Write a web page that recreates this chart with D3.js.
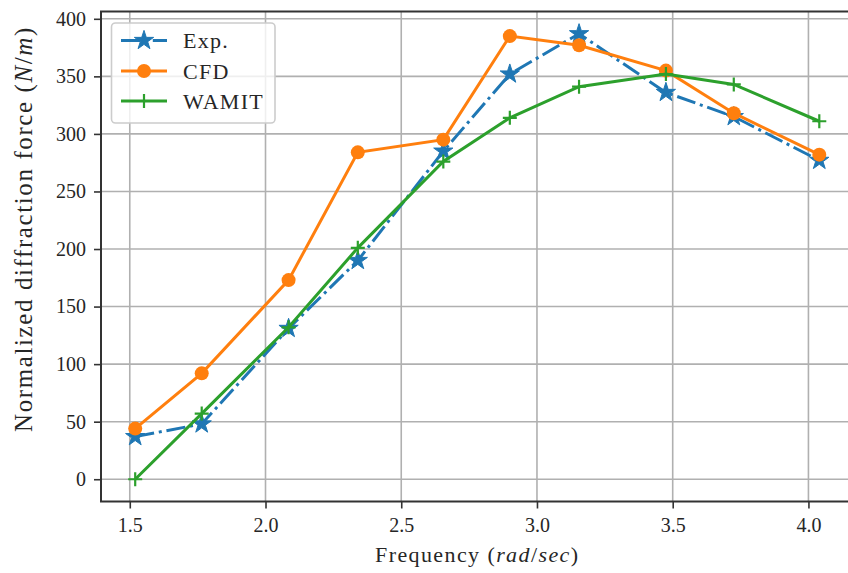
<!DOCTYPE html>
<html>
<head>
<meta charset="utf-8">
<script src="https://cdn.jsdelivr.net/npm/d3@7"></script>
<style>
  body { margin: 0; background: #fff; }
  svg text { font-family: "Liberation Serif", "DejaVu Serif", serif; fill: #262626; }
</style>
</head>
<body>
<svg id="chart" width="848" height="573"></svg>
<script>
// frequencies (rad/sec)
const freq = [1.52, 1.765, 2.085, 2.34, 2.655, 2.9, 3.155, 3.475, 3.725, 4.04];
// normalized diffraction force (N/m)
const expVals   = [37, 48, 131, 190, 285, 352, 387, 336, 315, 277];
const cfdVals   = [44, 92, 173, 284, 295, 385, 377, 355, 318, 282];
const wamitVals = [0, 57, 132, 201, 276, 314, 341, 352, 343, 311];

const xTicks = [1.5, 2.0, 2.5, 3.0, 3.5, 4.0];
const yTicks = [0, 50, 100, 150, 200, 250, 300, 350, 400];

const seriesNames = ['Exp.', 'CFD', 'WAMIT'];
const seriesColors = ['#1f77b4', '#ff7f0e', '#2ca02c'];

const svg = d3.select('#chart');
const plot = {left: 101, right: 853.5, top: 11.5, bottom: 501.5};

// matplotlib style 5% margins
const allY = expVals.concat(cfdVals, wamitVals);
const xMin = d3.min(freq), xMax = d3.max(freq);
const yMin = d3.min(allY), yMax = d3.max(allY);
const xPad = (xMax - xMin) * 0.05, yPad = (yMax - yMin) * 0.05;

const x = d3.scaleLinear().domain([xMin - xPad, xMax + xPad]).range([plot.left, plot.right]);
const y = d3.scaleLinear().domain([yMin - yPad, yMax + yPad]).range([plot.bottom, plot.top]);

// grid
const grid = svg.append('g');
grid.selectAll('.vg').data(xTicks).enter().append('line')
    .attr('x1', d => x(d)).attr('x2', d => x(d))
    .attr('y1', plot.top).attr('y2', plot.bottom)
    .attr('stroke', '#b0b0b0').attr('stroke-width', 1.6);
grid.selectAll('.hg').data(yTicks).enter().append('line')
    .attr('y1', d => y(d)).attr('y2', d => y(d))
    .attr('x1', plot.left).attr('x2', plot.right)
    .attr('stroke', '#b0b0b0').attr('stroke-width', 1.6);

// axes
const xAxis = d3.axisBottom(x).tickValues(xTicks).tickFormat(d3.format('.1f')).tickSize(7).tickPadding(9).tickSizeOuter(0);
const yAxis = d3.axisLeft(y).tickValues(yTicks).tickFormat(d3.format('d')).tickSize(7).tickPadding(8).tickSizeOuter(0);

const xAxisG = svg.append('g').attr('transform', `translate(0,${plot.bottom})`).call(xAxis);
const yAxisG = svg.append('g').attr('transform', `translate(${plot.left},0)`).call(yAxis);
[xAxisG, yAxisG].forEach(g => {
  g.select('.domain').remove();
  g.selectAll('.tick line').attr('stroke', '#333').attr('stroke-width', 1.6);
  g.selectAll('.tick text').attr('font-size', 20).attr('fill', '#262626')
    .style('font-family', '"Liberation Serif", serif');
});

// spines
svg.append('rect')
    .attr('x', plot.left).attr('y', plot.top)
    .attr('width', plot.right - plot.left).attr('height', plot.bottom - plot.top)
    .attr('fill', 'none').attr('stroke', '#333').attr('stroke-width', 2);

// series
const allSeries = [expVals, cfdVals, wamitVals];
const line = d3.line().x(d => x(d[0])).y(d => y(d[1]));
const starPath = d3.symbol().type(d3.symbolStar).size(115)();
const plusPath = 'M-7,0H7M0,-7V7';

function drawMarker(g, kind, color) {
  if (kind === 0) {
    g.append('path').attr('d', starPath).attr('fill', color).attr('stroke', color).attr('stroke-width', 1);
  } else if (kind === 1) {
    g.append('circle').attr('r', 7).attr('fill', color);
  } else {
    g.append('path').attr('d', plusPath).attr('stroke', color).attr('stroke-width', 2.2).attr('fill', 'none');
  }
}

allSeries.forEach((vals, i) => {
  const pts = freq.map((f, j) => [f, vals[j]]);
  const g = svg.append('g');
  g.append('path')
      .datum(pts)
      .attr('d', line)
      .attr('fill', 'none')
      .attr('stroke', seriesColors[i])
      .attr('stroke-width', 3)
      .attr('stroke-dasharray', i === 0 ? '19.2,4.8,3,4.8' : null);
  pts.forEach(p => {
    const m = g.append('g').attr('transform', `translate(${x(p[0])},${y(p[1])})`);
    drawMarker(m, i, seriesColors[i]);
  });
});

// legend
const legend = svg.append('g');
legend.append('rect')
    .attr('x', 111.5).attr('y', 23).attr('width', 163.5).attr('height', 100)
    .attr('rx', 4).attr('fill', '#fff').attr('fill-opacity', 0.8)
    .attr('stroke', '#cccccc').attr('stroke-width', 1.6);
const rowY = [40.5, 71, 101];
seriesNames.forEach((name, i) => {
  const row = legend.append('g');
  row.append('line')
      .attr('x1', 121).attr('x2', 167).attr('y1', rowY[i]).attr('y2', rowY[i])
      .attr('stroke', seriesColors[i]).attr('stroke-width', 3)
      .attr('stroke-dasharray', i === 0 ? '19.2,4.8,3,4.8' : null);
  const m = row.append('g').attr('transform', `translate(144,${rowY[i]})`);
  drawMarker(m, i, seriesColors[i]);
  row.append('text')
      .attr('x', 183).attr('y', rowY[i])
      .attr('dy', '0.35em')
      .attr('font-size', 22)
      .attr('letter-spacing', 1.3)
      .text(name);
});

// axis titles
const xt = svg.append('text')
    .attr('x', (plot.left + plot.right) / 2).attr('y', 562)
    .attr('text-anchor', 'middle').attr('font-size', 22).attr('letter-spacing', 1.4);
xt.append('tspan').text('Frequency (');
xt.append('tspan').attr('font-style', 'italic').text('rad');
xt.append('tspan').text('/');
xt.append('tspan').attr('font-style', 'italic').text('sec');
xt.append('tspan').text(')');

const yt = svg.append('text')
    .attr('transform', 'translate(32,229) rotate(-90)')
    .attr('text-anchor', 'middle').attr('font-size', 25).attr('letter-spacing', 1.6);
yt.append('tspan').text('Normalized diffraction force (');
yt.append('tspan').attr('font-style', 'italic').text('N');
yt.append('tspan').text('/');
yt.append('tspan').attr('font-style', 'italic').text('m');
yt.append('tspan').text(')');
</script>
</body>
</html>
